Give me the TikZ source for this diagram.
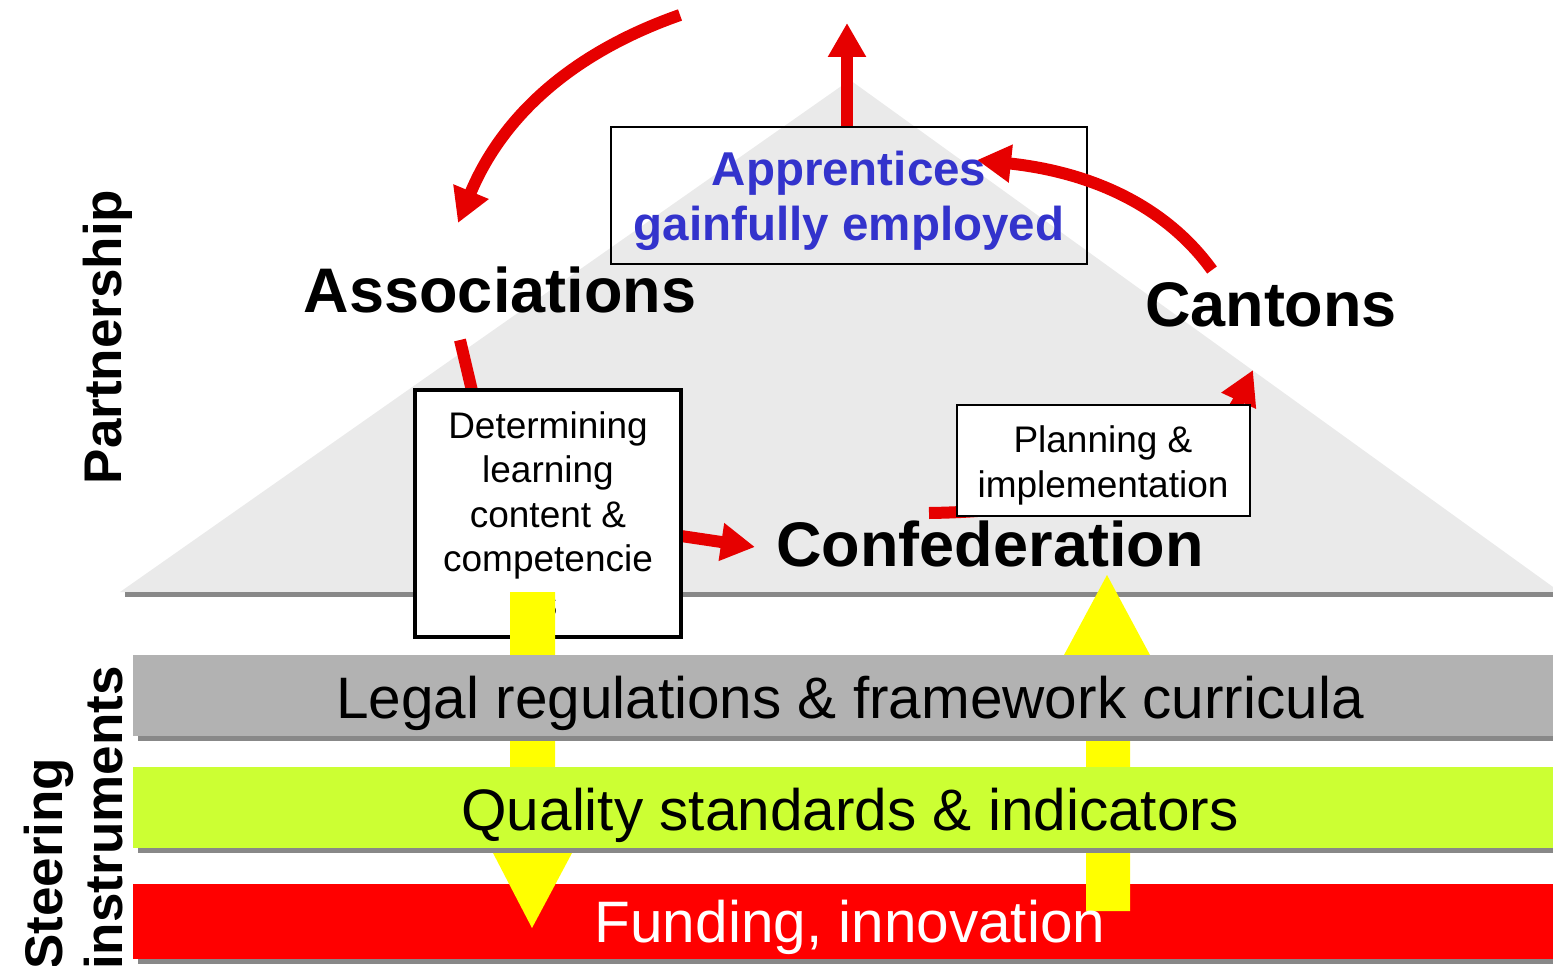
\documentclass[tikz,border=0pt]{standalone}
\usepackage{fontspec}
\setmainfont{Liberation Sans}
\usetikzlibrary{arrows.meta}
\definecolor{redA}{RGB}{230,0,0}
\definecolor{triGray}{RGB}{234,234,234}
\definecolor{shadowGray}{RGB}{136,136,136}
\definecolor{bandGray}{RGB}{178,178,178}
\definecolor{bandGreen}{RGB}{204,255,51}
\definecolor{bandRed}{RGB}{255,0,0}
\definecolor{blueText}{RGB}{51,51,204}
\definecolor{yellowA}{RGB}{255,255,0}
\tikzset{
  redarrow/.style={draw=redA, line width=12pt, -{Triangle[width=36pt,length=34pt]}},
  redline/.style={draw=redA, line width=12pt},
  whitebox/.style={draw=black, fill=white, inner sep=0pt},
  bigbold/.style={font=\fontsize{63}{70}\selectfont\bfseries, anchor=base, inner sep=0pt},
  boxtext/.style={font=\fontsize{37}{44.5}\selectfont, align=center, anchor=base, inner sep=0pt},
  bandtext/.style={font=\fontsize{58.5}{65}\selectfont, anchor=base, inner sep=0pt},
  sidetext/.style={font=\fontsize{53}{60}\selectfont\bfseries, rotate=90, inner sep=0pt},
}
\begin{document}
\begin{tikzpicture}[x=1pt,y=-1pt]
\useasboundingbox (0,0) rectangle (1553,966);
\clip (0,0) rectangle (1553,966);
% roof triangle
\fill[triGray] (120,592) -- (850,80) -- (1560,592) -- cycle;
\fill[shadowGray] (125,592) rectangle (1560,597);
% outcome box
\node[draw=black, line width=2.5pt, minimum width=476pt, minimum height=137pt, inner sep=0pt] (appbox) at (849,195.5) {};
\node[font=\fontsize{47.5}{55}\selectfont\bfseries, text=blueText, align=center, anchor=base, inner sep=0pt] (apptext) at (849,240) {Apprentices\\gainfully employed};
% coordinates for connectors
\coordinate (a1s) at (680,15);
\coordinate (a1e) at (458,223);
\coordinate (a2s) at (460,340);
\coordinate (a2e) at (473,395);
\coordinate (a3s) at (681,536);
\coordinate (a3e) at (755,547);
\coordinate (a4s) at (929,513);
\coordinate (a4e) at (1253,370);
\coordinate (a5s) at (1212,270);
\coordinate (a5e) at (977,160);
\coordinate (a6e) at (847,23);
% red connectors
\draw[redarrow] (a1s) .. controls (580,50) and (505,110) .. (a1e);
\draw[redline] (a2s) -- (a2e);
\draw[redarrow] (a3s) -- (a3e);
\draw[redarrow] (a4s) .. controls (1150,510) and (1225,430) .. (a4e);
\draw[redarrow] (a5s) .. controls (1165,205) and (1090,172) .. (a5e);
\draw[redarrow] (appbox.north -| a6e) -- (a6e);
% boxes
\node[whitebox, line width=3.5pt, minimum width=266pt, minimum height=247pt] (detbox) at (548,513.5) {};
\node[boxtext] (dettext) at (548,616) {Determining\\learning\\content \&\\competencie\\s};
\node[whitebox, line width=2.5pt, minimum width=293pt, minimum height=111pt] (planbox) at (1103.5,460.5) {};
\node[boxtext] (plantext) at (1103,497) {Planning \&\\implementation};
% actors
\node[bigbold] (assoc) at (500,312) {Associations};
\node[bigbold] (cantons) at (1271,326) {Cantons};
\node[bigbold] (confed) at (990,566) {Confederation};
% side labels
\node[sidetext, anchor=base] (partner) at (121,337) {Partnership};
\node[sidetext, anchor=base west] (steer) at (62,970) {Steering};
\node[sidetext, anchor=base west] (instr) at (122,970) {instruments};
% funding band
\fill[shadowGray] (138,889) rectangle (1560,964);
\fill[bandRed] (133,884) rectangle (1560,959);
% yellow arrows
\fill[yellowA] (510,592) -- (555,592) -- (555,853) -- (572,853) -- (532,928) -- (493,853) -- (510,853) -- cycle;
\fill[yellowA] (1086,911) -- (1130,911) -- (1130,655) -- (1150,655) -- (1107,575) -- (1064,655) -- (1086,655) -- cycle;
% legal band
\fill[shadowGray] (138,660) rectangle (1560,741);
\fill[bandGray] (133,655) rectangle (1560,736);
% quality band
\fill[shadowGray] (138,772) rectangle (1560,853);
\fill[bandGreen] (133,767) rectangle (1560,848);
% band texts
\node[bandtext] (legal) at (850,718) {Legal regulations \& framework curricula};
\node[bandtext] (quality) at (850,830) {Quality standards \& indicators};
\node[bandtext, text=white] (funding) at (850,942) {Funding, innovation};
\end{tikzpicture}
\end{document}
